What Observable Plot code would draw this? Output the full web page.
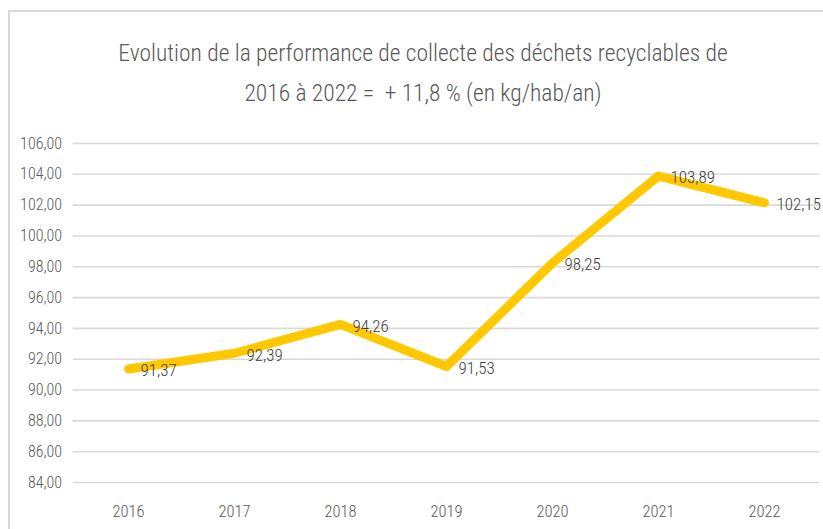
<!DOCTYPE html>
<html>
<head>
<meta charset="utf-8">
<script src="https://cdn.jsdelivr.net/npm/d3@7"></script>
<script src="https://cdn.jsdelivr.net/npm/@observablehq/plot@0.6"></script>
<style>
  html, body { margin: 0; padding: 0; background: #fff; }
  body { width: 823px; height: 529px; overflow: hidden; position: relative;
         font-family: "Liberation Sans Narrow", "Arial Narrow", "Roboto Condensed", "Liberation Sans", sans-serif; }
  #frame { position: absolute; left: 8px; top: 10px; width: 900px; height: 600px;
           border: 2px solid #d9d9d9; box-sizing: border-box; }
  #title { position: absolute; left: 0; top: 0; width: 846px; height: 125px;
           text-align: center; color: #595959; font-size: 23.5px; line-height: 40px; font-weight: 300;
           padding-top: 33px; box-sizing: border-box; }
  #chart { position: absolute; left: 0; top: 125px; }
</style>
</head>
<body>
<div id="frame"></div>
<div id="title">Evolution de la performance de collecte des déchets recyclables de<br>2016 à 2022 =&nbsp; + 11,8 % (en kg/hab/an)</div>
<div id="chart"></div>
<script>
const years = ["2016", "2017", "2018", "2019", "2020", "2021", "2022"];
const values = [91.37, 92.39, 94.26, 91.53, 98.25, 103.89, 102.15];
const yTicks = [84, 86, 88, 90, 92, 94, 96, 98, 100, 102, 104, 106];

const data = years.map((y, i) => ({year: y, value: values[i]}));
const fmt2 = v => d3.format(".2f")(v).replace(".", ",");
const font = '"Liberation Sans Narrow", "Arial Narrow", "Roboto Condensed", "Liberation Sans", sans-serif';

const chart = Plot.plot({
  width: 823,
  height: 404,
  marginTop: 18,
  marginBottom: 47,
  marginLeft: 72.6,
  marginRight: 3.7,
  style: {fontFamily: font, background: "transparent", overflow: "visible"},
  x: {type: "point", domain: years, padding: 0.5, label: null},
  y: {domain: [84, 106], label: null},
  marks: [
    Plot.gridY(yTicks, {stroke: "#d9d9d9", strokeOpacity: 1, strokeWidth: 1.6}),
    Plot.axisY(yTicks, {tickSize: 0, tickPadding: 11, tickFormat: fmt2, fontSize: 16, fontWeight: 300, fill: "#595959", label: null}),
    Plot.axisX(years, {tickSize: 0, tickPadding: 23, fontSize: 16.5, fontWeight: 300, fill: "#595959", label: null}),
    Plot.line(data, {x: "year", y: "value", stroke: "#ffc800", strokeWidth: 9, strokeLinecap: "round", strokeLinejoin: "round"}),
    Plot.text(data, {x: "year", y: "value", text: d => fmt2(d.value), textAnchor: "start", dx: 12, dy: 2, fontSize: 17, fontWeight: 300, fill: "#404040"})
  ]
});
document.getElementById("chart").appendChild(chart);
</script>
</body>
</html>
